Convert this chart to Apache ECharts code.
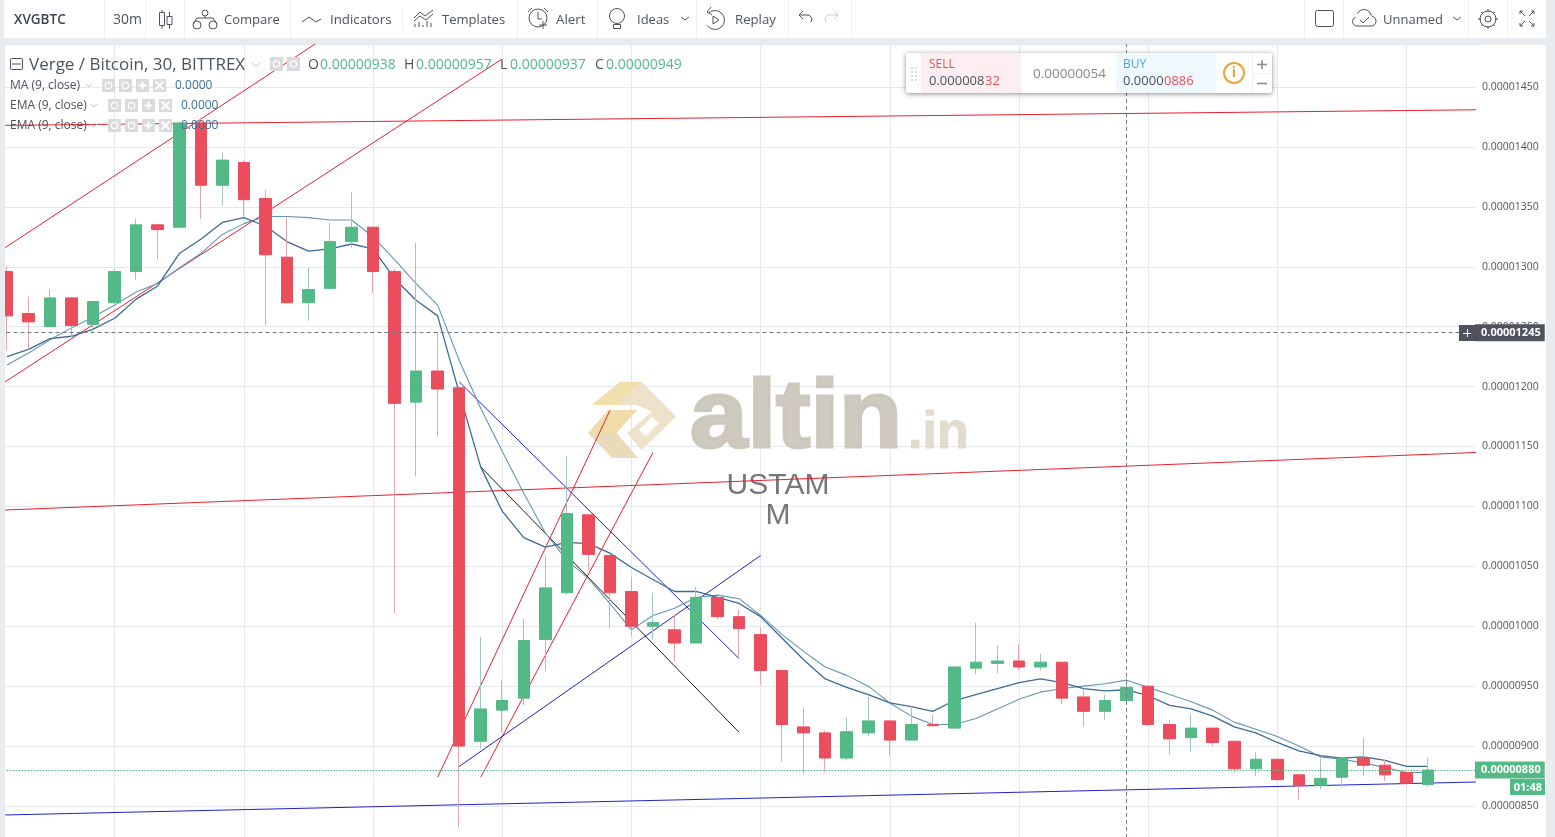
<!DOCTYPE html>
<html><head><meta charset="utf-8">
<style>html,body{margin:0;padding:0;width:1555px;height:837px;overflow:hidden;background:#e9ecef}#c{width:1555px;height:837px}</style>
<script src="https://cdn.jsdelivr.net/npm/echarts@6/dist/echarts.min.js"></script>
</head><body><div id="c"></div>
<script>
// Prices are in units of 0.00000001 BTC
const opens  = [1296,1261,1250,1274,1252,1270,1296,1335,1333,1420,1368,1387,1357,1308,1270,1282,1321,1333,1296,1187,1213,1199,904,930,940,989,1028,1093,1059,1029,1000,997,986,1024,1008,993,963,916,911,890,911,921,905,918,915,965,969,971,966,970,941,929,938,950,918,907,915,904,881,889,876,867,874,890,884,878,868];
const closes = [1259,1254,1274,1251,1271,1296,1335,1331,1420,1368,1389,1356,1310,1270,1281,1321,1333,1296,1186,1213,1198,900,931,938,988,1032,1094,1060,1028,1000,1003,986,1024,1008,998,963,918,911,890,912,921,905,918,917,966,970,971,966,970,940,929,938,949,918,906,915,903,881,889,872,867,873,890,884,876,869,880];
const lows   = [1230,1231,1250,1241,1245,1268,1289,1306,1332,1340,1351,1342,1251,1270,1255,1281,1316,1278,1011,1125,1158,832,898,911,934,963,1026,1047,998,992,989,971,986,1006,974,951,887,877,878,888,908,892,905,917,915,960,961,963,963,935,916,922,937,917,893,895,900,878,875,872,855,864,866,875,871,868,866];
const highs  = [1301,1275,1281,1274,1271,1298,1340,1335,1421,1424,1395,1389,1364,1341,1299,1337,1362,1333,1298,1320,1246,1200,991,955,1006,1059,1142,1093,1059,1041,1028,1010,1033,1024,1014,999,963,932,913,924,941,921,933,926,966,1003,984,985,977,970,947,943,957,950,922,927,915,904,895,889,876,890,890,907,889,878,890];
const maLine  = [1225,1231,1240,1242,1248,1257,1273,1284,1311,1323,1337,1341,1334,1321,1313,1315,1319,1315,1290,1272,1259,1195,1133,1096,1074,1066,1070,1069,1061,1049,1039,1029,1029,1024,1019,1008,990,972,956,949,943,936,933,929,938,943,948,953,956,953,948,946,947,942,934,931,925,916,911,903,896,892,890,891,888,883,883];
const emaLine = [1218,1228,1239,1249,1258,1268,1279,1286,1299,1311,1327,1336,1342,1342,1341,1339,1339,1325,1306,1286,1268,1222,1182,1146,1111,1078,1055,1040,1019,997,1009,1015,1024,1026,1023,1009,993,979,966,959,950,936,925,918,918,923,931,939,945,948,950,952,955,949,943,937,930,920,914,908,900,891,889,886,882,878,878];
const yTickStep = 50;
const xGridStep = 6;
const lastPrice = 880;
const crossPrice = 1245;
const crossBar = 53;
const timer = '01:48';
// Drawn trend lines: [barFrom, priceFrom, barTo, priceTo]
const redLines = [[0.916,1316,15.32,1486],[0.916,1204,23.96,1473],[0.916,1418,69.22,1431],[0.916,1097,69.22,1145],[21,874,29,1180],[23,874,31,1145]];
const blueLines = [[0.916,842.5,69.22,870],[22,883,36,1059],[22,1204,35,973]];
const blackLines = [[23,1133,35,911.5]];

const xMin = 0, xMax = 69.18, yMin = 800, yMax = 1485.9;
const bars = opens.map((_, i) => i + 1);
const priceText = v => (v / 1e8).toFixed(8);
const INK = '#4c525e', GREEN = '#53b987', RED = '#eb4d5c', BG = '#e9ecef';
const UI = 'Open Sans', BLUEV = '#3d6f98';

const T = (text, x, y, font, fill, extra) => ({type:'text', z:100, silent:true, style:Object.assign({text, x, y, font, fill:fill||INK, verticalAlign:'middle'}, extra||{})});
const L = (x1,y1,x2,y2,stroke,w) => ({type:'line', z:100, silent:true, shape:{x1,y1,x2,y2}, style:{stroke:stroke||INK, lineWidth:w||1}});
const P = (points,stroke,w) => ({type:'polyline', z:100, silent:true, shape:{points}, style:{stroke:stroke||INK, lineWidth:w||1, fill:null}});
const R = (x,y,width,height,fill,extra,z) => ({type:'rect', z:z===undefined?100:z, silent:true, shape:{x,y,width,height,r:(extra&&extra.r)||0}, style:Object.assign({fill}, (extra&&extra.style)||{})});
const C = (cx,cy,r,stroke,fill,w) => ({type:'circle', z:100, silent:true, shape:{cx,cy,r}, style:{stroke:stroke||INK, fill:fill||null, lineWidth:w||1}});
const G = (points,fill,z) => ({type:'polygon', z:z||1, silent:true, shape:{points}, style:{fill}});
const A = (cx,cy,r,startAngle,endAngle,stroke) => ({type:'arc', z:100, silent:true, shape:{cx,cy,r,startAngle,endAngle,clockwise:true}, style:{stroke:stroke||INK, fill:null, lineWidth:1}});

const sep = '#eef0f3';
const toolbar = [
  R(4,0,1542,38,'#fff',null,-1), R(5,45,1541,792,'#fff',null,-1),
  R(0,38,5,799,BG,null,50),
  ...[104,145,184,290,517,597,696,788,851,1304,1343,1468,1507].map(x => L(x+.5,0,x+.5,38,sep)),
  L(402.5,8,402.5,30,sep),
  T('XVGBTC',14,20,'600 13.5px "'+UI+'"','#3f4550'),
  T('30m',113,20,'14px "'+UI+'"'),
  L(162,10,162,29), R(159.5,12.5,5,13,'#fff',{style:{stroke:INK}}), L(169.5,12,169.5,29), R(167,16.5,5,8,'#fff',{style:{stroke:INK}}),
  C(197,25,4), C(213,25,4), C(205,13,3), P([[193,24],[197,18],[213,18],[217,24]]), L(205,16,205,18),
  T('Compare',224,20,'13px "'+UI+'"'),
  P([[302,22],[309,17],[316,22],[321,19]]),
  T('Indicators',330,20,'13.3px "'+UI+'"'),
  P([[414,18],[420,12],[425,16],[433,10]]), P([[414,21],[420,16],[426,20],[433,14]]),
  ...[415,419,423,427,431].map((x,i)=>L(x,27-[3,5,2,6,4][i],x,27)),
  T('Templates',442,20,'13px "'+UI+'"'),
  C(538,18,9), P([[538,12],[538,19],[542,19]]), L(543,21,543,29), L(539,25,547,25), L(528,12,532,8), L(548,12,544,8),
  T('Alert',556,20,'13.3px "'+UI+'"'),
  C(617,16,7.5), R(613.5,24.5,7,4,'#fff',{style:{stroke:INK}}),
  T('Ideas',637,20,'13px "'+UI+'"'),
  P([[681,17],[685,20],[689,17]]),
  A(715,20,9.5,-2.3,2.6), P([[711,7],[707,12],[712,15]]), P([[713,16],[713,24],[719,20],[713,16]]),
  T('Replay',735,20,'13.2px "'+UI+'"'),
  P([[799,15],[809,15],[812,18],[811,22]]), P([[803,11],[799,15],[803,19]]),
  P([[838,15],[828,15],[825,18],[826,22]],'#c9ccd1'), P([[834,11],[838,15],[834,19]],'#c9ccd1'),
  {type:'rect', z:100, silent:true, shape:{x:1315.5,y:10.5,width:18,height:16,r:2}, style:{fill:'#fff',stroke:INK}},
  A(1357,21.5,4.5,1.57,4.4), A(1364,17,7.5,3.6,6.1), A(1371,21,5,-1.4,1.57), L(1357,26,1371,26),
  P([[1360,20],[1363,23],[1369,17]]),
  T('Unnamed',1383,20,'13px "'+UI+'"'),
  P([[1453,17],[1457,20],[1461,17]]),
  C(1488,19,8), C(1488,19,3),
  ...[[1488,9,1488,12],[1488,26,1488,29],[1478,19,1481,19],[1495,19,1498,19],[1481,12,1483,14],[1493,24,1495,26],[1495,12,1493,14],[1481,26,1483,24]].map(a=>L(...a)),
  P([[1520,14],[1520,11],[1523,11]]), L(1520,11,1525,16), P([[1531,11],[1534,11],[1534,14]]), L(1534,11,1529,16),
  P([[1520,23],[1520,26],[1523,26]]), L(1520,26,1525,21), P([[1531,26],[1534,26],[1534,23]]), L(1534,26,1529,21)
];

const eye = (x,y) => [C(x,y,3.2,'#fff',null,1.2)];
const plus = (x,y) => [L(x-4,y,x+4,y,'#fff',2), L(x,y-4,x,y+4,'#fff',2)];
const cross = (x,y) => [L(x-4,y-4,x+4,y+4,'#fff',2), L(x+4,y-4,x-4,y+4,'#fff',2)];
const iconBoxes = (x0,y) => [...[0,1,2,3].map(i => R(x0+17*i,y,13,13,'#d9dbde')), ...eye(x0+6.5,y+6.5), ...eye(x0+23.5,y+6.5), ...plus(x0+40.5,y+6.5), ...cross(x0+57.5,y+6.5)];
const legend = [
  {type:'rect', z:100, silent:true, shape:{x:10.5,y:58.5,width:12,height:11,r:1}, style:{fill:'#fff',stroke:INK}}, L(12,64,21,64),
  T('Verge / Bitcoin, 30, BITTREX',29,65,'500 17px "'+UI+'"'),
  P([[252,63],[256,66],[260,63]],'#c4c7cb'),
  R(270,57,13,14,'#d9dbde'), R(287,57,13,14,'#d9dbde'), ...eye(276.5,64), ...eye(293.5,64),
  T('O',308,65,'14px "'+UI+'"'), T('0.00000938',320,65,'14px "'+UI+'"',GREEN),
  T('H',404,65,'14px "'+UI+'"'), T('0.00000957',416,65,'14px "'+UI+'"',GREEN),
  T('L',500,65,'14px "'+UI+'"'), T('0.00000937',510,65,'14px "'+UI+'"',GREEN),
  T('C',595,65,'14px "'+UI+'"'), T('0.00000949',606,65,'14px "'+UI+'"',GREEN),
  T('MA (9, close)',10,85.5,'12px "'+UI+'"'), ...iconBoxes(102,79), T('0.0000',175,85.5,'12px "'+UI+'"',BLUEV),
  T('EMA (9, close)',10,105.5,'12px "'+UI+'"'), ...iconBoxes(108,99), T('0.0000',181,105.5,'12px "'+UI+'"',BLUEV),
  T('EMA (9, close)',10,125.5,'12px "'+UI+'"'), ...iconBoxes(108,119), T('0.0000',181,125.5,'12px "'+UI+'"',BLUEV),
  P([[86,84],[89,87],[92,84]],'#c4c7cb'), P([[91,104],[94,107],[97,104]],'#c4c7cb'), P([[91,124],[94,127],[97,124]],'#c4c7cb')
];

const panel = [
  {type:'rect', z:99, silent:true, shape:{x:906,y:53,width:366,height:40,r:2}, style:{fill:'#fff', shadowBlur:5, shadowColor:'rgba(0,0,0,.45)', shadowOffsetY:1}},
  R(921,53,100,40,'#fdeff1'), R(1116,53,100,40,'#eff8fc'),
  ...[[911,67],[915,67],[911,71],[915,71],[911,75],[915,75],[911,79],[915,79]].map(p=>R(p[0],p[1],2,2,'#d9dbde')),
  T('SELL',929,65,'12px "'+UI+'"',RED),
  T('0.000008',929,81,'13px "'+UI+'"','#4c525e'), T('32',985,81,'13px "'+UI+'"',RED),
  T('0.00000054',1033,74,'13.5px "'+UI+'"','#85888e'),
  T('BUY',1123,65,'12px "'+UI+'"','#46a9dc'),
  T('0.0000',1123,81,'13px "'+UI+'"','#4c525e'), T('0886',1164,81,'13px "'+UI+'"',RED),
  C(1234,73,10,'#eba23a',null,2),
  T('i',1234,73,'700 14px "'+UI+'"','#eba23a',{align:'center'}),
  L(1252.5,53,1252.5,93,sep), L(1253,73.5,1272,73.5,sep),
  L(1257,64.5,1267,64.5,'#8a8e95',1.6), L(1262,60,1262,69,'#8a8e95',1.6), L(1257,83.5,1267,83.5,'#8a8e95',1.6)
];

const wordmark = (text,x,y,size,fill,strokeW,sx) => ({type:'text', z:1, silent:true, x, y, scaleX:sx,
  style:{text, x:0, y:0, font:'700 '+size+'px "Liberation Sans"', fill, stroke:fill, lineWidth:strokeW, verticalAlign:'middle', opacity:.92}});
const watermark = [
  G([[591.7,405],[620,381.7],[641.7,381.7],[616.7,405]],'#f1dfac'),
  G([[641.7,381.7],[676,416.7],[641.7,450],[627,433],[652,412],[637,405],[616.7,405]],'#eee3ca'),
  G([[652,417],[659,423],[646,436],[639,430]],'#ffffff',1),
  G([[588,433],[608,410],[637,410],[616.7,433]],'#efdca8'),
  G([[588,433],[616.7,433],[638,458],[612,458]],'#e9dbb9'),
  wordmark('altin',690,421,96,'#cbc6bb',3,1.075),
  wordmark('.in',908,434,52,'#ded9ca',1,1),
  Object.assign(T('USTAM',778,486,'30px "Liberation Sans"','#777',{align:'center'}),{z:1.5}),
  Object.assign(T('M',778,516,'30px "Liberation Sans"','#777',{align:'center'}),{z:1.5})
];

const timerBox = [
  R(1510,779,35,16,GREEN),
  T(timer,1542,787.5,'700 11px "'+UI+'"','#fff',{align:'right'}),
  R(1459,325,16,16,'#50535e'),
  L(1463,333.5,1471,333.5,'#fff'), L(1467.5,329,1467.5,337,'#fff')
];

const trend = (arr,color) => arr.map(s => ({type:'line', z:2, silent:true, symbol:'none', animation:false,
  data:[[s[0],s[1]],[s[2],s[3]]], lineStyle:{color, width:1}}));

const option = {
  animation:false,
  backgroundColor:BG,
  grid:{left:-14.53,width:1489.53,top:44,height:821.9,outerBoundsMode:'none',containLabel:false},
  xAxis:{type:'value',min:xMin,max:xMax,interval:xGridStep,axisLine:{show:false},axisTick:{show:false},axisLabel:{show:false},
    splitLine:{show:true,showMaxLine:false,lineStyle:{color:'#e4e9ee',width:1}}},
  yAxis:{type:'value',position:'right',min:yMin,max:yMax,interval:yTickStep,
    axisLine:{show:true,lineStyle:{color:'#50535e',width:1}},
    axisTick:{show:true,length:4,lineStyle:{color:'#50535e'}},
    axisLabel:{margin:7,color:'#50535e',fontSize:10.5,fontFamily:'"Open Sans"',showMinLabel:false,showMaxLabel:false,
      formatter:v => priceText(v)},
    splitLine:{show:true,lineStyle:{color:'#e4e9ee',width:1}}},
  graphic:{elements:[...toolbar,...legend,...panel,...watermark,...timerBox]},
  series:[
    ...trend(redLines,'#e8202e'), ...trend(blueLines,'#2222cc'), ...trend(blackLines,'#1a1a1a'),
    {name:'EMA (9, close)',type:'line',z:2,symbol:'none',silent:true,data:bars.map((b,i)=>[b,emaLine[i]]),lineStyle:{color:'#6496b3',width:1.1}},
    {name:'MA (9, close)',type:'line',z:2,symbol:'none',silent:true,data:bars.map((b,i)=>[b,maLine[i]]),lineStyle:{color:'#3d6a95',width:1.3},
      markLine:{silent:true,symbol:'none',animation:false,precision:8,data:[
        {yAxis:crossPrice,lineStyle:{color:'#747a84',type:[4,3],width:1},
         label:{show:true,position:'end',distance:0,formatter:priceText(crossPrice),color:'#fff',backgroundColor:'#50535e',fontSize:11,fontWeight:700,fontFamily:'"Open Sans"',padding:[3,4,3,6]}},
        {yAxis:lastPrice,lineStyle:{color:GREEN,type:[1.5,1.5],width:1},
         label:{show:true,position:'end',distance:0,formatter:priceText(lastPrice),color:'#fff',backgroundColor:GREEN,fontSize:11,fontWeight:700,fontFamily:'"Open Sans"',padding:[3,4,3,6]}},
        {xAxis:crossBar,lineStyle:{color:'#747a84',type:[4,3],width:1},label:{show:false}}
      ]}},
    {name:'Wicks',type:'candlestick',z:3,silent:true,barWidth:1,
      data:bars.map((b,i)=>[b,opens[i],closes[i],lows[i],highs[i]]),
      itemStyle:{color:'#a3c2c6',color0:'#e8a3af',borderColor:'#a3c2c6',borderColor0:'#e8a3af',borderWidth:1}},
    {name:'Verge / Bitcoin',type:'candlestick',z:4,silent:true,barWidth:12,
      data:bars.map((b,i)=>[b,opens[i],closes[i],Math.min(opens[i],closes[i]),Math.max(opens[i],closes[i])]),
      itemStyle:{color:GREEN,color0:RED,borderColor:GREEN,borderColor0:RED,borderWidth:1}}
  ]
};
const chart = echarts.init(document.getElementById('c'),null,{renderer:'canvas'});
chart.setOption(option);
</script></body></html>
